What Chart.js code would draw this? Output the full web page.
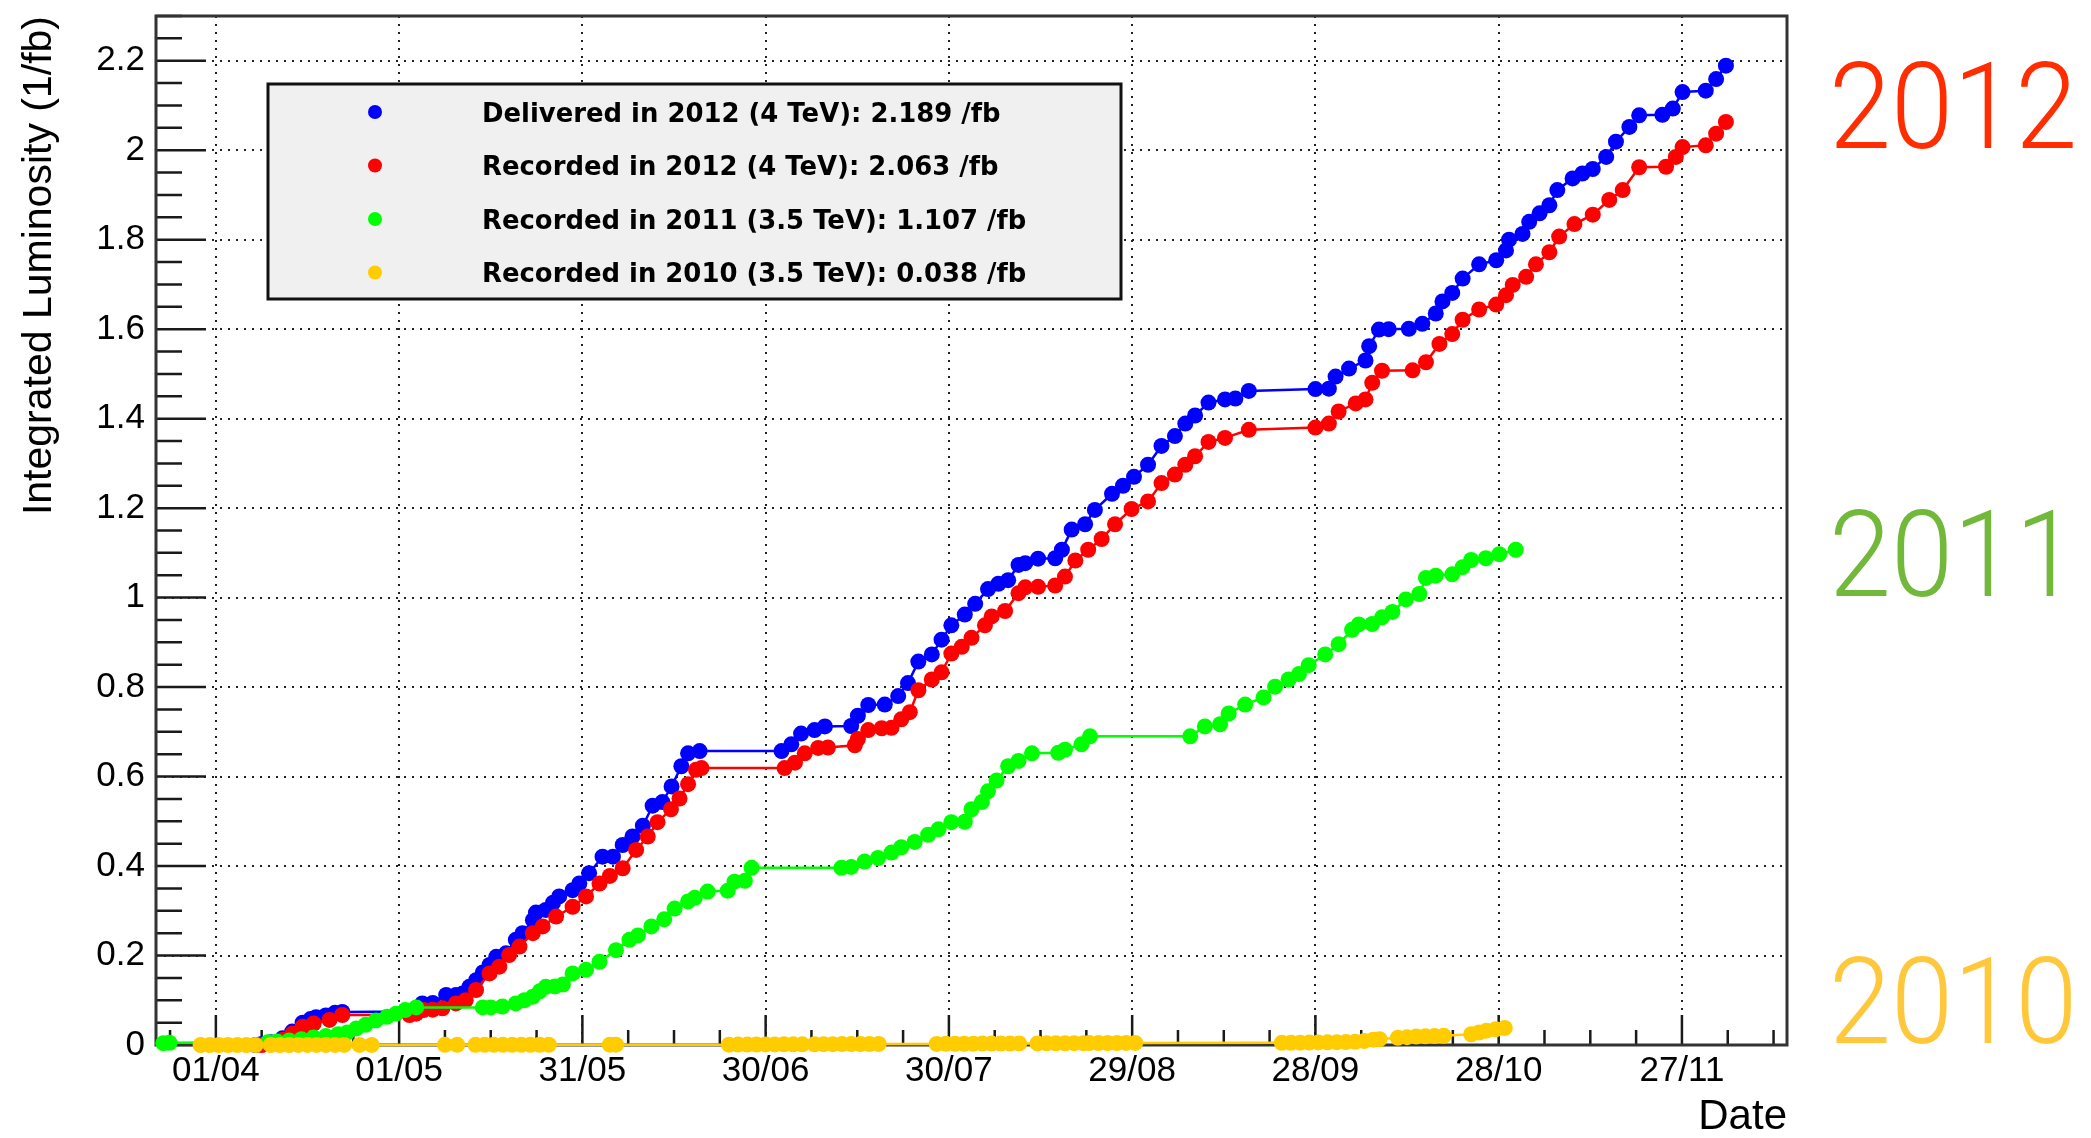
<!DOCTYPE html>
<html>
<head>
<meta charset="utf-8">
<title>Integrated Luminosity</title>
<script src="https://cdn.jsdelivr.net/npm/chart.js@4.4.1/dist/chart.umd.min.js"></script>
<style>
  body { margin: 0; background: #fff; }
  canvas { display: block; }
</style>
</head>
<body>
<canvas id="js--lumi-chart" width="2091" height="1138"></canvas>
<script>
// [days after 01/04, integrated luminosity in 1/fb]
const delivered2012 = [
  [6.5, 0.000], [7.5, 0.002], [9, 0.006], [10.9, 0.015], [12.5, 0.030], [14.2, 0.050], [15.5, 0.058],
  [16.4, 0.062], [18, 0.066], [19.5, 0.072], [20.7, 0.074], [31.7, 0.075], [32.8, 0.078], [33.8, 0.093],
  [35.5, 0.094], [37.7, 0.112], [39.3, 0.112], [40.4, 0.115], [41.5, 0.130], [42.6, 0.145], [43.7, 0.162],
  [44.8, 0.179], [45.9, 0.197], [47.5, 0.205], [49.1, 0.235], [50.2, 0.250], [51.9, 0.279], [52.4, 0.296],
  [54, 0.302], [55.2, 0.318], [56.2, 0.332], [58.4, 0.346], [59.5, 0.361], [61.1, 0.384], [63.3, 0.421],
  [65, 0.421], [66.6, 0.447], [68.2, 0.466], [69.9, 0.490], [71.5, 0.535], [73.1, 0.543], [74.6, 0.578],
  [76.2, 0.623], [77.3, 0.652], [79.2, 0.657], [92.6, 0.657], [94.2, 0.672], [95.8, 0.696], [98, 0.704],
  [99.7, 0.712], [104, 0.713], [105.1, 0.736], [106.8, 0.760], [109.5, 0.761], [111.7, 0.780], [113.3, 0.809],
  [115, 0.857], [117.2, 0.873], [118.8, 0.906], [120.4, 0.938], [122.6, 0.962], [124.3, 0.986], [126.4, 1.019],
  [128.1, 1.031], [129.7, 1.039], [131.4, 1.073], [132.5, 1.077], [134.6, 1.087], [137.4, 1.088], [138.5, 1.107],
  [140.1, 1.152], [142.3, 1.164], [143.9, 1.196], [146.7, 1.232], [148.5, 1.250], [150.3, 1.270], [152.6, 1.297],
  [154.8, 1.339], [157, 1.361], [158.7, 1.389], [160.3, 1.407], [162.5, 1.436], [165.2, 1.443], [166.9, 1.445],
  [169.1, 1.462], [180, 1.466], [182.2, 1.467], [183.3, 1.494], [185.5, 1.512], [188.2, 1.530], [188.8, 1.562],
  [190.4, 1.599], [192, 1.600], [195.3, 1.601], [197.5, 1.612], [199.7, 1.635], [200.8, 1.662], [202.4, 1.681],
  [204.1, 1.713], [206.8, 1.745], [209.6, 1.754], [211.2, 1.776], [211.7, 1.800], [213.9, 1.813], [215, 1.840],
  [216.7, 1.859], [218.3, 1.877], [219.6, 1.911], [222.1, 1.937], [223.7, 1.948], [225.4, 1.958], [227.6, 1.985],
  [229.2, 2.019], [231.4, 2.052], [233, 2.078], [236.8, 2.079], [238.5, 2.093], [240.1, 2.130], [243.9, 2.133],
  [245.6, 2.159], [247.2, 2.189]
];

const recorded2012 = [
  [7.5, 0.000], [9, 0.003], [11, 0.012], [12.5, 0.025], [14.2, 0.041], [16, 0.048], [18.6, 0.056],
  [20.7, 0.067], [31.7, 0.067], [32.8, 0.070], [34, 0.078], [35.5, 0.079], [37.1, 0.082], [39.3, 0.093],
  [40.9, 0.100], [42.6, 0.123], [44.8, 0.160], [46.4, 0.175], [48, 0.201], [49.7, 0.220], [51.9, 0.250],
  [53.5, 0.265], [55.7, 0.287], [58.4, 0.309], [60.6, 0.332], [62.8, 0.361], [64.5, 0.378], [66.6, 0.395],
  [68.8, 0.436], [70.7, 0.466], [72.3, 0.498], [74.5, 0.527], [75.9, 0.551], [77.3, 0.583], [78.6, 0.615],
  [79.5, 0.619], [93.1, 0.619], [94.8, 0.631], [96.4, 0.652], [98.6, 0.664], [100.2, 0.665], [104.6, 0.670],
  [105.1, 0.684], [106.8, 0.704], [109, 0.708], [110.6, 0.709], [112.2, 0.728], [113.6, 0.744], [115, 0.793],
  [117.2, 0.817], [118.8, 0.833], [120.4, 0.875], [122.1, 0.890], [123.7, 0.910], [125.9, 0.938], [127, 0.958],
  [129.2, 0.970], [131.4, 1.010], [132.5, 1.023], [134.6, 1.024], [137.4, 1.027], [139, 1.047], [140.7, 1.083],
  [142.8, 1.107], [145, 1.131], [147.2, 1.164], [149.9, 1.198], [152.6, 1.215], [154.8, 1.256], [157, 1.275],
  [158.7, 1.297], [160.3, 1.316], [162.5, 1.348], [165.2, 1.357], [169.1, 1.375], [180, 1.380], [182.2, 1.389],
  [183.8, 1.416], [186.6, 1.434], [188.2, 1.443], [189.3, 1.480], [190.9, 1.507], [195.9, 1.508], [198.1, 1.526],
  [200.3, 1.567], [202.4, 1.589], [204.1, 1.621], [206.8, 1.644], [209.6, 1.655], [211.2, 1.676], [212.3, 1.699],
  [214.5, 1.717], [216.1, 1.745], [218.3, 1.772], [219.9, 1.807], [222.4, 1.835], [225.4, 1.856], [228.1, 1.889],
  [230.3, 1.911], [233, 1.962], [237.4, 1.963], [239, 1.985], [240.1, 2.007], [243.9, 2.011], [245.6, 2.037],
  [247.2, 2.063]
];

const recorded2011 = [
  [-8.6, 0.004], [-7.6, 0.005], [8.5, 0.006], [10, 0.008], [12, 0.010], [14, 0.013], [16, 0.017], [18, 0.020],
  [20, 0.024], [21.5, 0.028], [23, 0.037], [24.5, 0.045], [26.2, 0.055], [28, 0.063], [29.5, 0.070], [31, 0.078],
  [32.8, 0.084], [43.7, 0.084], [45, 0.084], [46.9, 0.086], [49.1, 0.093], [50.5, 0.100], [51.9, 0.108],
  [53, 0.120], [54, 0.130], [55.5, 0.131], [56.8, 0.135], [58.4, 0.160], [60.6, 0.168], [62.8, 0.186],
  [65.5, 0.212], [67.7, 0.235], [69.1, 0.245], [71.3, 0.265], [73.4, 0.281], [75.1, 0.305], [77.3, 0.321],
  [78.4, 0.329], [80.5, 0.343], [83.8, 0.345], [84.9, 0.365], [86.6, 0.367], [87.7, 0.396], [102.4, 0.396],
  [104, 0.398], [106.2, 0.410], [108.4, 0.418], [110.6, 0.430], [112.2, 0.442], [114.4, 0.454], [116.6, 0.470],
  [118.3, 0.482], [120.4, 0.498], [122.6, 0.499], [123.7, 0.527], [125.4, 0.543], [126.4, 0.567], [127.8, 0.591],
  [129.7, 0.623], [131.4, 0.635], [133.6, 0.652], [137.9, 0.653], [139, 0.660], [141.7, 0.672], [143.1, 0.690],
  [159.5, 0.690], [161.9, 0.712], [164.4, 0.717], [165.8, 0.741], [168.5, 0.761], [171.5, 0.777], [173.4, 0.801],
  [175.6, 0.817], [177.3, 0.829], [178.9, 0.849], [181.6, 0.873], [183.8, 0.896], [186, 0.928], [187.1, 0.940],
  [189.3, 0.941], [190.9, 0.956], [192.6, 0.968], [194.8, 0.996], [197, 1.008], [198.1, 1.044], [199.7, 1.049],
  [202.4, 1.052], [204.1, 1.068], [205.5, 1.084], [207.9, 1.088], [210.1, 1.097], [212.8, 1.107]
];

const recorded2010 = [
  [-2.5, 0.0000], [-1, 0.0000], [0.5, 0.0000], [2, 0.0000], [3.5, 0.0000], [5, 0.0000], [6.5, 0.0000],
  [9, 0.0000], [10.5, 0.0000], [12, 0.0000], [13.5, 0.0001], [15, 0.0001], [16.5, 0.0001], [18, 0.0001],
  [19.5, 0.0002], [21, 0.0002], [23.5, 0.0002], [25.5, 0.0002], [37.5, 0.0003], [39.5, 0.0003],
  [42.5, 0.0003], [44, 0.0004], [45.5, 0.0004], [47, 0.0004], [48.5, 0.0004], [50, 0.0005], [51.5, 0.0005],
  [53, 0.0005], [54.5, 0.0006], [64.5, 0.0007], [65.5, 0.0007], [84, 0.0008], [85.5, 0.0009], [87, 0.0010],
  [88.5, 0.0011], [90, 0.0012], [91.5, 0.0013], [93, 0.0014], [94.5, 0.0015], [96, 0.0016], [98, 0.0017],
  [99.5, 0.0018], [101, 0.0019], [102.5, 0.0020], [104, 0.0021], [105.5, 0.0022], [107, 0.0023], [108.5, 0.0024],
  [118, 0.0025], [119.5, 0.0026], [121, 0.0027], [122.5, 0.0028], [124, 0.0030], [125.5, 0.0031], [127, 0.0032],
  [128.5, 0.0033], [130, 0.0034], [131.5, 0.0035], [134.5, 0.0036], [136, 0.0037], [137.5, 0.0038], [139, 0.0039],
  [140.5, 0.0040], [142, 0.0041], [143, 0.0042], [144.5, 0.0043], [146, 0.0044], [147.5, 0.0045], [149, 0.0046],
  [150.5, 0.0047], [174.5, 0.0048], [176, 0.0050], [177.5, 0.0052], [179, 0.0055], [180.5, 0.0058], [182, 0.0060],
  [183.5, 0.0063], [185, 0.0066], [186.5, 0.0070], [188, 0.0090], [189.5, 0.0120], [190.5, 0.0130],
  [193.5, 0.0160], [195, 0.0175], [196.5, 0.0188], [198, 0.0196], [199.5, 0.0200], [201, 0.0205],
  [205.5, 0.0240], [206.8, 0.0280], [208, 0.0320], [209.5, 0.0350], [211, 0.0380]
];

const seriesNames = [
  "Delivered in 2012 (4 TeV): 2.189 /fb",
  "Recorded in 2012 (4 TeV): 2.063 /fb",
  "Recorded in 2011 (3.5 TeV): 1.107 /fb",
  "Recorded in 2010 (3.5 TeV): 0.038 /fb"
];
const seriesColors = ["#0000ff", "#ff0000", "#00ff00", "#ffcc00"];

const dateTickDays = [0, 30, 60, 90, 120, 150, 180, 210, 240];
const dateTickLabels = ["01/04", "01/05", "31/05", "30/06", "30/07", "29/08", "28/09", "28/10", "27/11"];
const lumiTicks = [0, 0.2, 0.4, 0.6, 0.8, 1, 1.2, 1.4, 1.6, 1.8, 2, 2.2];

const yearLabels = ["2012", "2011", "2010"];
const yearLevels = [2, 1, 0];
const yearColors = ["#ff2d00", "#72b83a", "#ffc83c"];

const xMin = -9.8;
const xMax = 257.2;

Chart.defaults.font.family = '"Liberation Sans", Arial, sans-serif';
Chart.defaults.color = "#000";

function toPoints(pairs) {
  return pairs.map(function (p) {
    return { x: p[0], y: p[1] };
  });
}

const allSeries = [delivered2012, recorded2012, recorded2011, recorded2010];
const datasets = allSeries.map(function (series, i) {
  return {
    label: seriesNames[i],
    data: toPoints(series),
    borderColor: seriesColors[i],
    backgroundColor: seriesColors[i],
    borderWidth: 2.5,
    pointRadius: 8,
    pointHoverRadius: 8,
    pointBorderWidth: 0,
    showLine: true,
    tension: 0,
    clip: false,
    // the older years are painted over the 2012 curves
    order: allSeries.length - 1 - i
  };
});

// no extra room for half labels at the ends of the axes
function fixSize(prop, size) {
  return function (scale) {
    scale[prop] = size;
    scale.paddingTop = 0;
    scale.paddingBottom = 0;
    scale.paddingLeft = 0;
    scale.paddingRight = 0;
  };
}

// ROOT style frame with inward ticks (major + minor)
const axisDecorations = {
  id: "axisDecorations",
  beforeDatasetsDraw: function (chart) {
    const ctx = chart.ctx;
    const area = chart.chartArea;
    const x = chart.scales.x;
    const y = chart.scales.y;
    ctx.save();
    ctx.strokeStyle = "#1a1a1a";
    ctx.lineWidth = 2.5;
    ctx.beginPath();
    for (let d = -7.5; d <= xMax; d += 7.5) {
      const px = x.getPixelForValue(d);
      const len = (d % 30 === 0) ? 30 : 15;
      ctx.moveTo(px, area.bottom);
      ctx.lineTo(px, area.bottom - len);
    }
    for (let k = 0; k <= 46; k++) {
      const py = y.getPixelForValue(k * 0.05);
      const len = (k % 4 === 0) ? 50 : 26;
      ctx.moveTo(area.left, py);
      ctx.lineTo(area.left + len, py);
    }
    ctx.stroke();
    ctx.lineWidth = 3;
    ctx.strokeStyle = "#333";
    ctx.strokeRect(area.left, area.top, area.right - area.left, area.bottom - area.top);
    ctx.restore();
  }
};

// grey legend box inside the frame
const boxLegend = {
  id: "boxLegend",
  afterDatasetsDraw: function (chart) {
    const ctx = chart.ctx;
    ctx.save();
    ctx.fillStyle = "#f0f0f0";
    ctx.fillRect(268, 84, 853, 215);
    ctx.lineWidth = 3;
    ctx.strokeStyle = "#111";
    ctx.strokeRect(268, 84, 853, 215);
    ctx.font = 'bold 25.9px "DejaVu Sans", sans-serif';
    ctx.textBaseline = "alphabetic";
    chart.data.datasets.forEach(function (ds, i) {
      const rowY = 112 + i * 53.5;
      ctx.fillStyle = ds.backgroundColor;
      ctx.beginPath();
      ctx.arc(375, rowY, 7, 0, Math.PI * 2);
      ctx.fill();
      ctx.fillStyle = "#000";
      ctx.fillText(ds.label, 482, rowY + 9.5);
    });
    ctx.restore();
  }
};

// big year tags at the right, sitting on the 0, 1 and 2 levels
const yearTags = {
  id: "yearTags",
  afterDraw: function (chart) {
    const ctx = chart.ctx;
    const y = chart.scales.y;
    ctx.font = '300 121px Roboto, "Liberation Sans", sans-serif';
    ctx.textBaseline = "alphabetic";
    ctx.textAlign = "left";
    yearLabels.forEach(function (label, i) {
      ctx.save();
      ctx.translate(1829, y.getPixelForValue(yearLevels[i]) - 2);
      ctx.scale(0.925, 1);
      ctx.fillStyle = yearColors[i];
      ctx.fillText(label, 0, 0);
      ctx.restore();
    });
  }
};

const config = {
  type: "scatter",
  data: { datasets: datasets },
  options: {
    responsive: false,
    animation: false,
    devicePixelRatio: 1,
    events: [],
    layout: { padding: { top: 16, right: 304, bottom: 0, left: 0 } },
    plugins: {
      legend: { display: false },
      tooltip: { enabled: false }
    },
    scales: {
      x: {
        type: "linear",
        min: xMin,
        max: xMax,
        afterBuildTicks: function (scale) {
          scale.ticks = dateTickDays.map(function (d) { return { value: d }; });
        },
        afterFit: fixSize("height", 93),
        ticks: {
          autoSkip: false,
          maxRotation: 0,
          padding: 5,
          color: "#000",
          font: { size: 35 },
          callback: function (value) {
            return dateTickLabels[dateTickDays.indexOf(value)];
          }
        },
        grid: { color: "#222", lineWidth: 2, drawTicks: false },
        border: { display: false, dash: [2, 6] },
        title: {
          display: true,
          text: "Date",
          align: "end",
          color: "#000",
          font: { size: 42, lineHeight: 1 },
          padding: 0
        }
      },
      y: {
        type: "linear",
        min: 0,
        max: 2.3,
        afterBuildTicks: function (scale) {
          scale.ticks = lumiTicks.map(function (v) { return { value: v }; });
        },
        afterFit: fixSize("width", 156),
        ticks: {
          padding: 11,
          color: "#000",
          font: { size: 35 },
          callback: function (value) { return String(value); }
        },
        grid: { color: "#222", lineWidth: 2, drawTicks: false },
        border: { display: false, dash: [2, 6] },
        title: {
          display: true,
          text: "Integrated Luminosity (1/fb)",
          align: "end",
          color: "#000",
          font: { size: 41, lineHeight: 1 },
          padding: { top: 19, bottom: 0 }
        }
      }
    }
  },
  plugins: [axisDecorations, boxLegend, yearTags]
};

new Chart(document.getElementById("js--lumi-chart"), config);
</script>
</body>
</html>
